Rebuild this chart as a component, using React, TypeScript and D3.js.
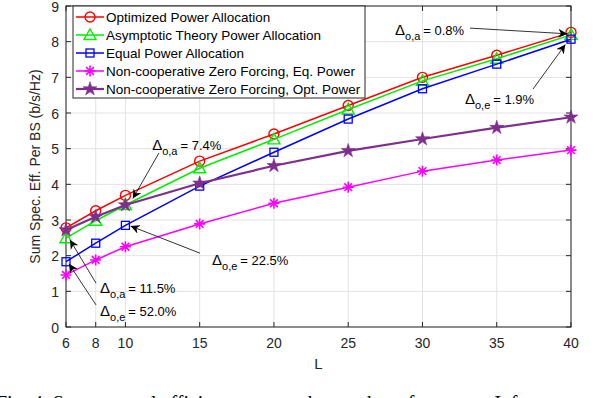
import React from "react";
import * as d3 from "d3";

const Lvals = [6, 8, 10, 15, 20, 25, 30, 35, 40];
const optimized = [2.78, 3.26, 3.69, 4.65, 5.41, 6.21, 7.0, 7.62, 8.26];
const asymptotic = [2.49, 2.98, 3.42, 4.45, 5.26, 6.1, 6.9, 7.52, 8.19];
const equalPower = [1.83, 2.35, 2.85, 3.95, 4.9, 5.83, 6.68, 7.37, 8.07];
const ncEq = [1.46, 1.88, 2.25, 2.89, 3.47, 3.92, 4.37, 4.68, 4.96];
const ncOpt = [2.72, 3.09, 3.42, 4.03, 4.52, 4.94, 5.27, 5.59, 5.88];
const seriesNames = [
  "Optimized Power Allocation",
  "Asymptotic Theory Power Allocation",
  "Equal Power Allocation",
  "Non-cooperative Zero Forcing, Eq. Power",
  "Non-cooperative Zero Forcing, Opt. Power",
];
const xTicks = [6, 8, 10, 15, 20, 25, 30, 35, 40];
const yTicks = [0, 1, 2, 3, 4, 5, 6, 7, 8, 9];

// annotations: sub, value text, text anchor (L, v), arrow from (L, v) to (L, v)
const annSub = ["o,a", "o,e", "o,a", "o,e", "o,a", "o,e"];
const annVal = ["= 7.4%", "= 22.5%", "= 11.5%", "= 52.0%", "= 0.8%", "= 1.9%"];
const annText = [[11.8, 4.96], [15.83, 1.74], [8.29, 0.95], [8.29, 0.32], [28.15, 8.19], [32.86, 6.25]];
const annFrom = [[12.26, 4.88], [15.02, 2.07], [8.02, 1.23], [8.02, 0.62], [33.2, 8.38], [37.44, 6.67]];
const annTo = [[10.5, 3.6], [10.35, 2.83], [6.27, 2.44], [6.2, 1.77], [39.75, 8.22], [39.62, 7.92]];

const colors = ["#ff0000", "#00ee00", "#0000ff", "#ff00ff", "#7e2f8e"];
const FONT = "'Liberation Sans', Arial, Helvetica, sans-serif";

function Marker({ kind, x, y, color }: { kind: number; x: number; y: number; color: string }) {
  if (kind === 0) return <circle cx={x} cy={y} r={5} fill="none" stroke={color} strokeWidth={1.4} />;
  if (kind === 1) {
    const s = 6;
    return (
      <path
        d={`M${x},${y - s} L${x + s},${y + s * 0.75} L${x - s},${y + s * 0.75} Z`}
        fill="none"
        stroke={color}
        strokeWidth={1.4}
      />
    );
  }
  if (kind === 2) return <rect x={x - 4} y={y - 4} width={8} height={8} fill="none" stroke={color} strokeWidth={1.3} />;
  if (kind === 3) {
    const s = 5.5;
    const d = s * 0.7;
    return (
      <path
        d={`M${x - s},${y} L${x + s},${y} M${x},${y - s} L${x},${y + s} M${x - d},${y - d} L${x + d},${y + d} M${x - d},${y + d} L${x + d},${y - d}`}
        stroke={color}
        strokeWidth={1.6}
      />
    );
  }
  const star = d3.symbol().type(d3.symbolStar).size(60)();
  return <path d={star as string} transform={`translate(${x},${y})`} fill={color} stroke={color} strokeWidth={0.6} />;
}

export default function App() {
  const W = 594, H = 398;
  const x = d3.scaleLinear().domain([6, 40]).range([66, 571]);
  const y = d3.scaleLinear().domain([0, 9]).range([327, 6]);
  const all = [optimized, asymptotic, equalPower, ncEq, ncOpt];
  const line = d3
    .line<number>()
    .x((_, i) => x(Lvals[i]))
    .y((d) => y(d));

  return (
    <svg width={W} height={H} style={{ position: "absolute", left: 0, top: 0, background: "#fff" }}>
      <defs>
        <marker id="ah" viewBox="0 0 10 10" refX={10} refY={5} markerWidth={9} markerHeight={9} markerUnits="userSpaceOnUse" orient="auto">
          <path d="M0,0 L10,5 L0,10 L3,5 Z" fill="#000" />
        </marker>
      </defs>
      <rect x={0} y={0} width={W} height={H} fill="#fff" />
      {/* grid */}
      {xTicks.map((t) => (
        <line key={"gx" + t} x1={x(t)} x2={x(t)} y1={y(0)} y2={y(9)} stroke="#e3e3e3" strokeWidth={1} />
      ))}
      {yTicks.map((t) => (
        <line key={"gy" + t} x1={x(6)} x2={x(40)} y1={y(t)} y2={y(t)} stroke="#e3e3e3" strokeWidth={1} />
      ))}
      {/* axes box */}
      <rect x={x(6)} y={y(9)} width={x(40) - x(6)} height={y(0) - y(9)} fill="none" stroke="#262626" strokeWidth={1} />
      {xTicks.map((t) => (
        <g key={"tx" + t}>
          <line x1={x(t)} x2={x(t)} y1={y(0)} y2={y(0) - 5} stroke="#262626" />
          <line x1={x(t)} x2={x(t)} y1={y(9)} y2={y(9) + 5} stroke="#262626" />
          <text x={x(t)} y={348} textAnchor="middle" fontSize={14} fontFamily={FONT} fill="#262626">
            {t}
          </text>
        </g>
      ))}
      {yTicks.map((t) => (
        <g key={"ty" + t}>
          <line x1={x(6)} x2={x(6) + 5} y1={y(t)} y2={y(t)} stroke="#262626" />
          <line x1={x(40)} x2={x(40) - 5} y1={y(t)} y2={y(t)} stroke="#262626" />
          <text x={59} y={y(t) + 5.5} textAnchor="end" fontSize={14} fontFamily={FONT} fill="#262626">
            {t}
          </text>
        </g>
      ))}
      <text x={x(23)} y={369} textAnchor="middle" fontSize={15} fontFamily={FONT} fill="#262626">
        L
      </text>
      <text
        transform={`translate(40,${(y(0) + y(9)) / 2}) rotate(-90)`}
        textAnchor="middle"
        fontSize={14}
        fontFamily={FONT}
        fill="#262626"
      >
        Sum Spec. Eff. Per BS (b/s/Hz)
      </text>
      {/* series */}
      {all.map((s, k) => (
        <g key={"s" + k}>
          <path d={line(s) as string} fill="none" stroke={colors[k]} strokeWidth={k === 4 ? 2.2 : 1.5} />
          {s.map((v, i) => (
            <Marker key={i} kind={k} x={x(Lvals[i])} y={y(v)} color={colors[k]} />
          ))}
        </g>
      ))}
      {/* annotations */}
      {annSub.map((sub, i) => (
        <g key={"a" + i}>
          <line
            x1={x(annFrom[i][0])}
            y1={y(annFrom[i][1])}
            x2={x(annTo[i][0])}
            y2={y(annTo[i][1])}
            stroke="#000"
            strokeWidth={0.8}
            markerEnd="url(#ah)"
          />
          <text x={x(annText[i][0])} y={y(annText[i][1])} fontFamily={FONT} fill="#000">
            <tspan fontSize={15}>Δ</tspan>
            <tspan fontSize={11} dy={5}>{sub}</tspan>
            <tspan fontSize={13} dy={-5} dx={3}>{annVal[i]}</tspan>
          </text>
        </g>
      ))}
      {/* legend */}
      <rect x={73} y={6} width={292} height={92} fill="#fff" stroke="#262626" strokeWidth={1} />
      {seriesNames.map((n, k) => {
        const ly = 17 + k * 18;
        return (
          <g key={"l" + k}>
            <line x1={76} x2={104} y1={ly} y2={ly} stroke={colors[k]} strokeWidth={k === 4 ? 2.2 : 1.5} />
            <Marker kind={k} x={90} y={ly} color={colors[k]} />
            <text x={106} y={ly + 5} fontSize={13.5} fontFamily={FONT} fill="#000">
              {n}
            </text>
          </g>
        );
      })}
      {/* cut-off caption */}
      <text x={-4} y={410} fontSize={20} fontFamily="'Liberation Serif', 'Times New Roman', serif" fill="#000">
        Fig. 4.  Sum spectral efficiency versus the number of antennas L for
      </text>
    </svg>
  );
}
